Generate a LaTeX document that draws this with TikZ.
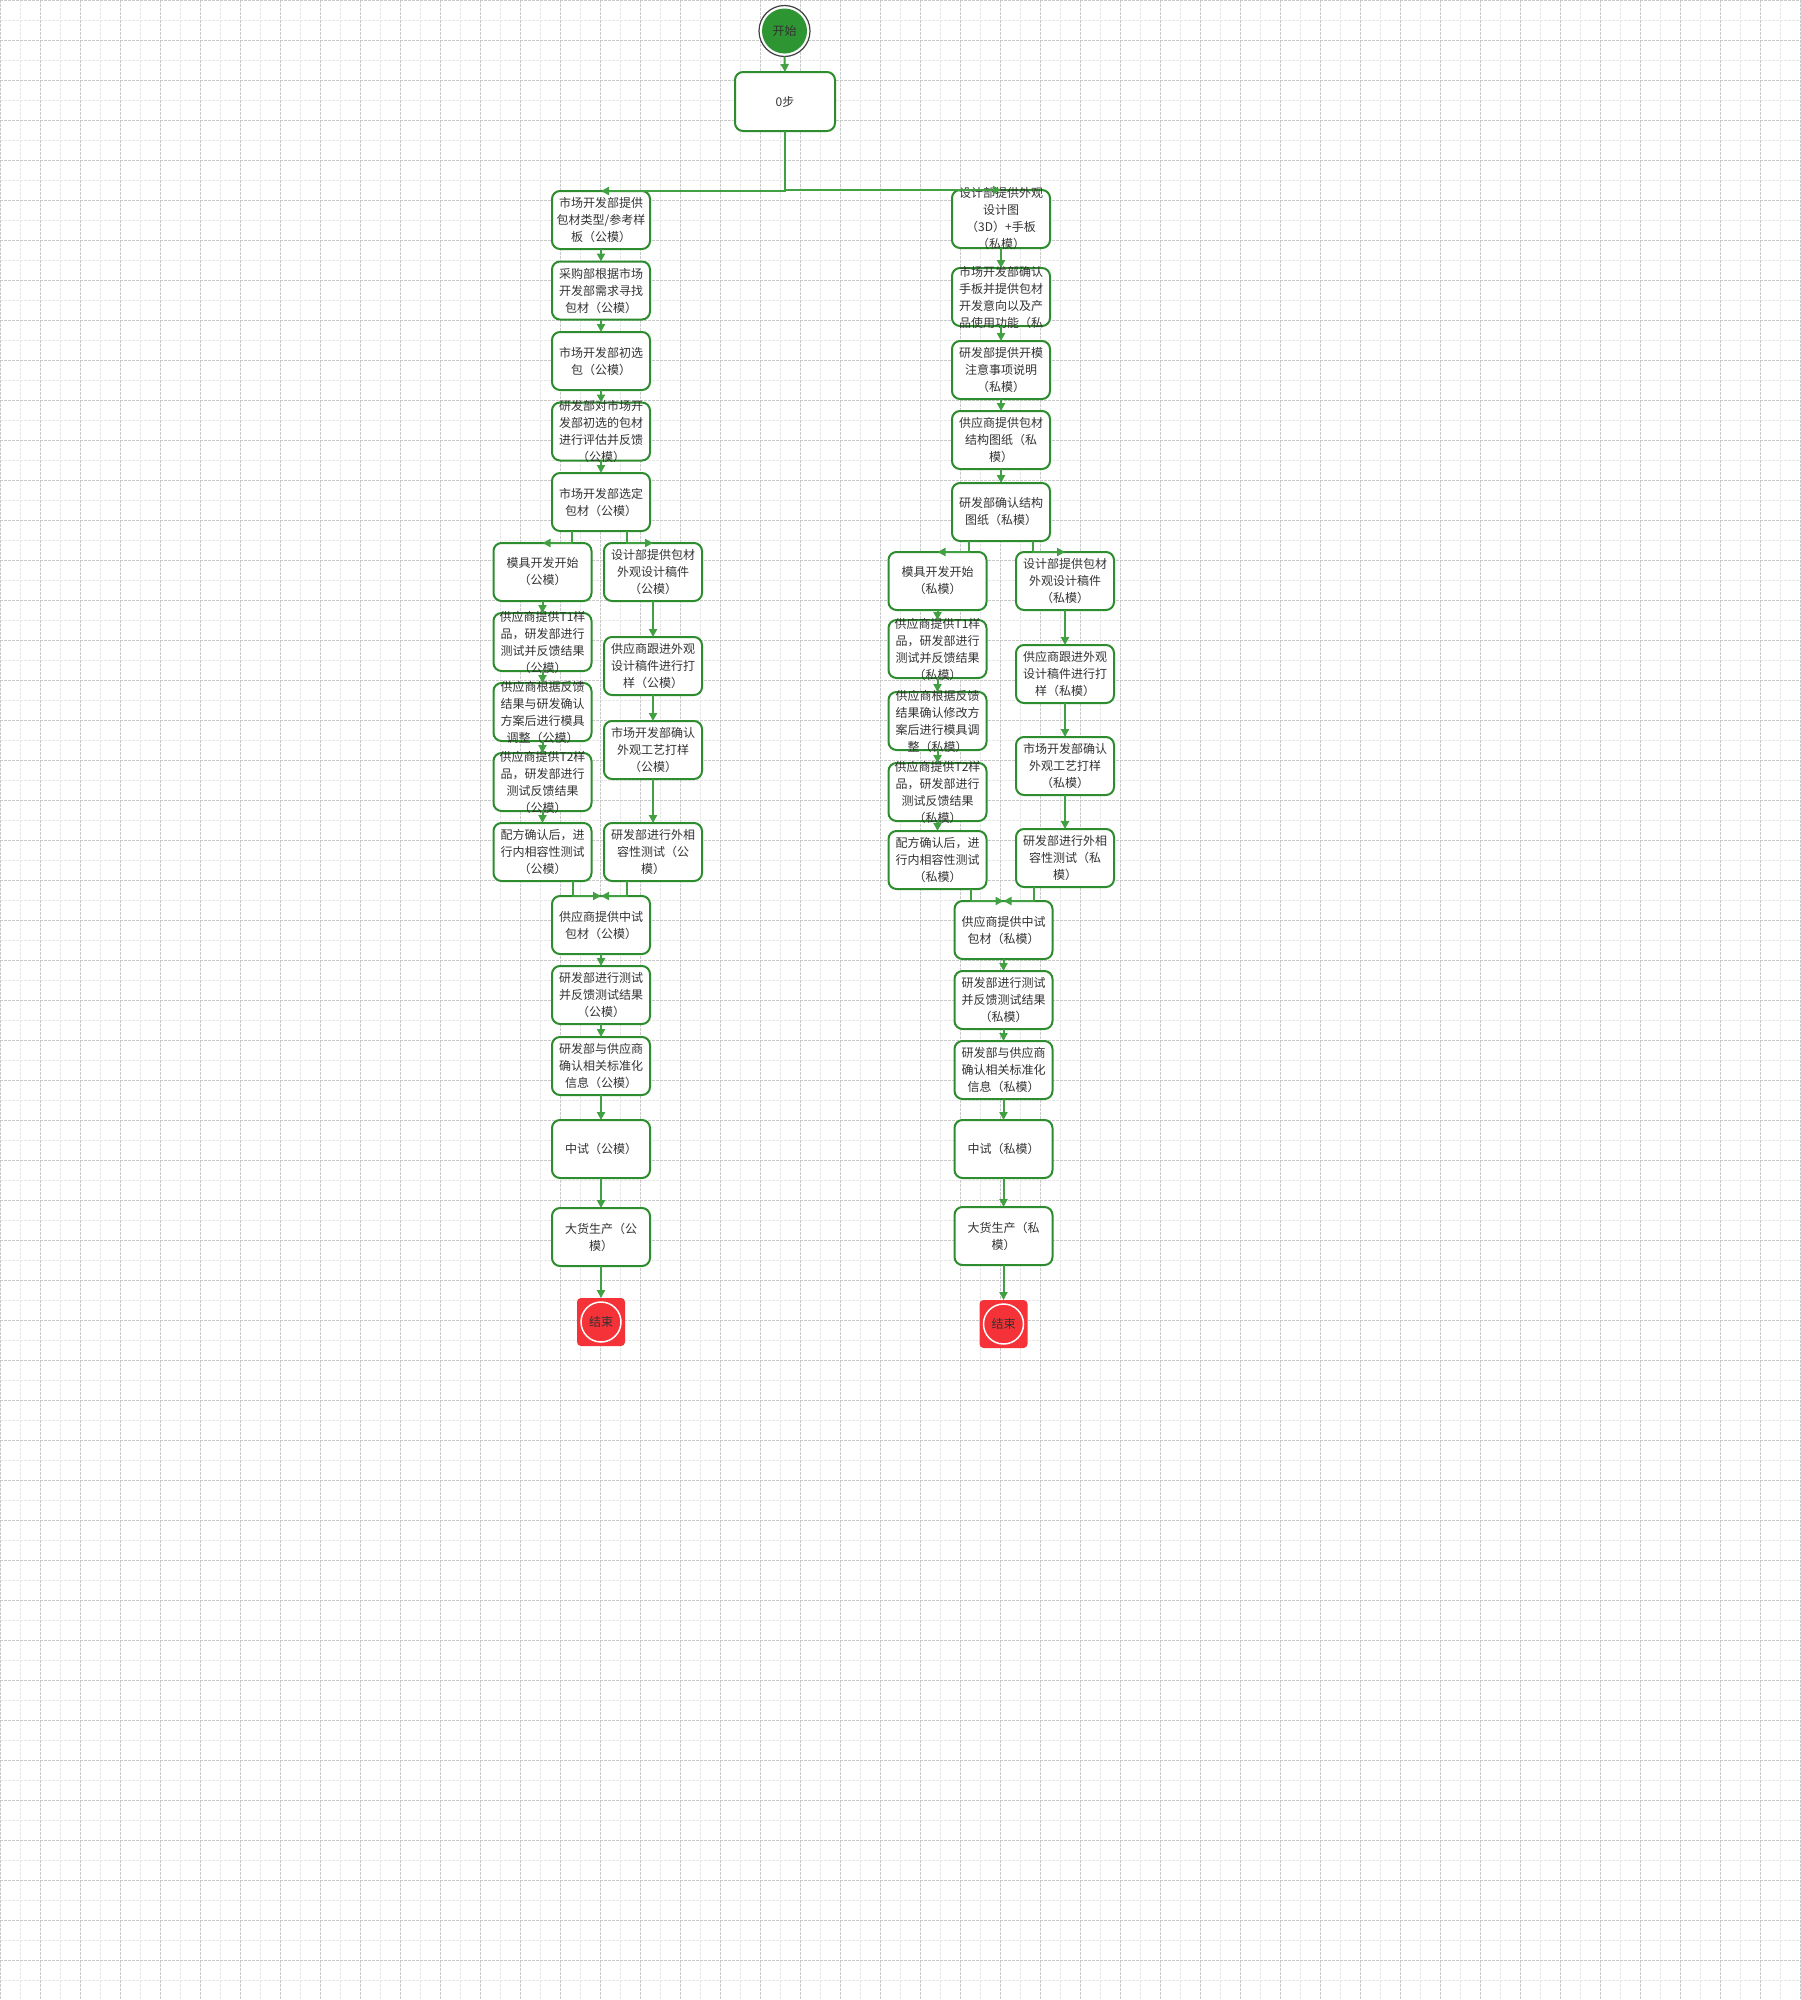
\documentclass[tikz,border=0pt]{standalone}
\usepackage{fontspec}
\setmainfont{Noto Sans CJK SC}
\usetikzlibrary{arrows.meta, positioning, calc, backgrounds}
\definecolor{gridmajor}{RGB}{200,200,200}
\definecolor{gridminor}{RGB}{230,230,230}
\definecolor{boxgreen}{RGB}{45,140,45}
\definecolor{linkgreen}{RGB}{65,160,65}
\definecolor{startgreen}{RGB}{45,150,50}
\definecolor{endred}{RGB}{245,50,55}
\definecolor{textgray}{RGB}{51,51,51}
\tikzset{
  basebox/.style={rectangle,rounded corners=8pt,draw=boxgreen,line width=2pt,fill=white,
    minimum width=98pt,minimum height=58pt,inner sep=0pt,outer sep=0pt,text width=92pt,align=center,
    text=textgray,font=\fontsize{12pt}{17pt}\selectfont},
  boxtext/.style={inner sep=0pt,text width=92pt,align=center,text=textgray,
    font=\fontsize{12pt}{17pt}\selectfont},
  startnode/.style={circle,draw=black!75,line width=1.2pt,fill=white,minimum size=51pt,inner sep=0pt,
    outer sep=0pt,text=textgray,font=\fontsize{12pt}{14pt}\selectfont,
    path picture={\fill[startgreen] (path picture bounding box.center) circle (22.5pt);}},
  endnode/.style={rectangle,rounded corners=4pt,fill=endred,minimum size=48pt,inner sep=0pt,
    outer sep=0pt,text=textgray,font=\fontsize{12pt}{14pt}\selectfont,
    path picture={\draw[white,line width=1.5pt] (path picture bounding box.center) circle (20pt);}},
  arr/.style={-{Triangle[length=8pt,width=8pt]},line width=2pt,color=linkgreen},
  minorline/.style={gridminor,line width=1pt,dash pattern=on 3pt off 1pt},
  majorline/.style={gridmajor,line width=1pt,dash pattern=on 3pt off 1pt}
}

\begin{document}
\begin{tikzpicture}[x=1pt,y=-1pt]
  \useasboundingbox (0,0) rectangle (1800,2000);

  %% Start
  \node[startnode] (start) at (784.5,31) {开始};
  \node[basebox,minimum width=100pt,minimum height=59pt] (zero) at (785,101.5) {0步};

  %% Left branch (public mould)
  \node[basebox] (l1) at (601,220) {市场开发部提供\\包材类型/参考样\\板（公模）};
  \node[basebox,below=12.5pt of l1] (l2) {采购部根据市场\\开发部需求寻找\\包材（公模）};
  \node[basebox,below=12.5pt of l2] (l3) {市场开发部初选\\包（公模）};
  \node[basebox,below=12.5pt of l3,
        label={[boxtext]center:研发部对市场开\\发部初选的包材\\进行评估并反馈\\（公模）}] (l4) {};
  \node[basebox,below=12.5pt of l4] (l5) {市场开发部选定\\包材（公模）};

  %% Left: mould track
  \node[basebox] (la1) at (542.5,572) {模具开发开始\\（公模）};
  \node[basebox,below=12pt of la1,
        label={[boxtext]center:供应商提供T1样\\品，研发部进行\\测试并反馈结果\\（公模）}] (la2) {};
  \node[basebox,below=12pt of la2,
        label={[boxtext]center:供应商根据反馈\\结果与研发确认\\方案后进行模具\\调整（公模）}] (la3) {};
  \node[basebox,below=12pt of la3,
        label={[boxtext]center:供应商提供T2样\\品，研发部进行\\测试反馈结果\\（公模）}] (la4) {};
  \node[basebox,below=12pt of la4] (la5) {配方确认后，进\\行内相容性测试\\（公模）};

  %% Left: design track
  \node[basebox] (lb1) at (653,572) {设计部提供包材\\外观设计稿件\\（公模）};
  \node[basebox,below=36pt of lb1] (lb2) {供应商跟进外观\\设计稿件进行打\\样（公模）};
  \node[basebox,below=26pt of lb2] (lb3) {市场开发部确认\\外观工艺打样\\（公模）};
  \node[basebox,below=44pt of lb3] (lb4) {研发部进行外相\\容性测试（公\\模）};

  %% Left: pilot and production
  \node[basebox] (l6) at (601,925) {供应商提供中试\\包材（公模）};
  \node[basebox,below=12pt of l6] (l7) {研发部进行测试\\并反馈测试结果\\（公模）};
  \node[basebox,below=13pt of l7] (l8) {研发部与供应商\\确认相关标准化\\信息（公模）};
  \node[basebox,below=25pt of l8] (l9) {中试（公模）};
  \node[basebox,below=30pt of l9] (l10) {大货生产（公\\模）};
  \node[endnode,below=32pt of l10] (lend) {结束};

  %% Right branch (private mould)
  \node[basebox,label={[boxtext]center:设计部提供外观\\设计图\\（3D）+手板\\（私模）}] (r1) at (1001,219) {};
  \node[basebox,below=20pt of r1,
        label={[boxtext]center:市场开发部确认\\手板并提供包材\\开发意向以及产\\品使用功能（私}] (r2) {};
  \node[basebox,below=15pt of r2] (r3) {研发部提供开模\\注意事项说明\\（私模）};
  \node[basebox,below=12pt of r3] (r4) {供应商提供包材\\结构图纸（私\\模）};
  \node[basebox,below=14pt of r4] (r5) {研发部确认结构\\图纸（私模）};

  %% Right: mould track
  \node[basebox] (ra1) at (937.5,581) {模具开发开始\\（私模）};
  \node[basebox,below=10pt of ra1,
        label={[boxtext]center:供应商提供T1样\\品，研发部进行\\测试并反馈结果\\（私模）}] (ra2) {};
  \node[basebox,below=14pt of ra2,
        label={[boxtext]center:供应商根据反馈\\结果确认修改方\\案后进行模具调\\整（私模）}] (ra3) {};
  \node[basebox,below=13pt of ra3,
        label={[boxtext]center:供应商提供T2样\\品，研发部进行\\测试反馈结果\\（私模）}] (ra4) {};
  \node[basebox,below=10pt of ra4] (ra5) {配方确认后，进\\行内相容性测试\\（私模）};

  %% Right: design track
  \node[basebox] (rb1) at (1065,581) {设计部提供包材\\外观设计稿件\\（私模）};
  \node[basebox,below=35pt of rb1] (rb2) {供应商跟进外观\\设计稿件进行打\\样（私模）};
  \node[basebox,below=34pt of rb2] (rb3) {市场开发部确认\\外观工艺打样\\（私模）};
  \node[basebox,below=34pt of rb3] (rb4) {研发部进行外相\\容性测试（私\\模）};

  %% Right: pilot and production
  \node[basebox] (r6) at (1003.5,930) {供应商提供中试\\包材（私模）};
  \node[basebox,below=12pt of r6] (r7) {研发部进行测试\\并反馈测试结果\\（私模）};
  \node[basebox,below=12pt of r7] (r8) {研发部与供应商\\确认相关标准化\\信息（私模）};
  \node[basebox,below=21pt of r8] (r9) {中试（私模）};
  \node[basebox,below=29pt of r9] (r10) {大货生产（私\\模）};
  \node[endnode,below=35pt of r10] (rend) {结束};

  %% Connectors
  \draw[arr] (start.south) -- (zero.north);
  \draw[arr] (zero.south) |- (l1.north);
  \draw[arr] (zero.south) |- (r1.north);

  \draw[arr] (l1) -- (l2);
  \draw[arr] (l2) -- (l3);
  \draw[arr] (l3) -- (l4);
  \draw[arr] (l4) -- (l5);
  \draw[arr] ($(l5.south)+(-29,0)$) |- (la1.north);
  \draw[arr] ($(l5.south)+(26,0)$) |- (lb1.north);
  \draw[arr] (la1) -- (la2);
  \draw[arr] (la2) -- (la3);
  \draw[arr] (la3) -- (la4);
  \draw[arr] (la4) -- (la5);
  \draw[arr] (lb1) -- (lb2);
  \draw[arr] (lb2) -- (lb3);
  \draw[arr] (lb3) -- (lb4);
  \draw[arr] ($(la5.south)+(30,0)$) |- (l6.north);
  \draw[arr] ($(lb4.south)+(-26,0)$) |- (l6.north);
  \draw[arr] (l6) -- (l7);
  \draw[arr] (l7) -- (l8);
  \draw[arr] (l8) -- (l9);
  \draw[arr] (l9) -- (l10);
  \draw[arr] (l10) -- (lend);

  \draw[arr] (r1) -- (r2);
  \draw[arr] (r2) -- (r3);
  \draw[arr] (r3) -- (r4);
  \draw[arr] (r4) -- (r5);
  \draw[arr] ($(r5.south)+(-32,0)$) |- (ra1.north);
  \draw[arr] ($(r5.south)+(32,0)$) |- (rb1.north);
  \draw[arr] (ra1) -- (ra2);
  \draw[arr] (ra2) -- (ra3);
  \draw[arr] (ra3) -- (ra4);
  \draw[arr] (ra4) -- (ra5);
  \draw[arr] (rb1) -- (rb2);
  \draw[arr] (rb2) -- (rb3);
  \draw[arr] (rb3) -- (rb4);
  \draw[arr] ($(ra5.south)+(33,0)$) |- (r6.north);
  \draw[arr] ($(rb4.south)+(-31,0)$) |- (r6.north);
  \draw[arr] (r6) -- (r7);
  \draw[arr] (r7) -- (r8);
  \draw[arr] (r8) -- (r9);
  \draw[arr] (r9) -- (r10);
  \draw[arr] (r10) -- (rend);

  %% Background grid
  \begin{pgfonlayer}{background}
    \fill[white] (0,0) rectangle (1800,2000);
    \foreach \gx in {20,60,...,1780} \draw[minorline] (\gx,0) -- (\gx,2000);
    \foreach \gy in {20,60,...,1980} \draw[minorline] (0,\gy) -- (1800,\gy);
    \foreach \gx in {0,40,...,1800} \draw[majorline] (\gx,0) -- (\gx,2000);
    \foreach \gy in {0,40,...,2000} \draw[majorline] (0,\gy) -- (1800,\gy);
  \end{pgfonlayer}
\end{tikzpicture}
\end{document}
